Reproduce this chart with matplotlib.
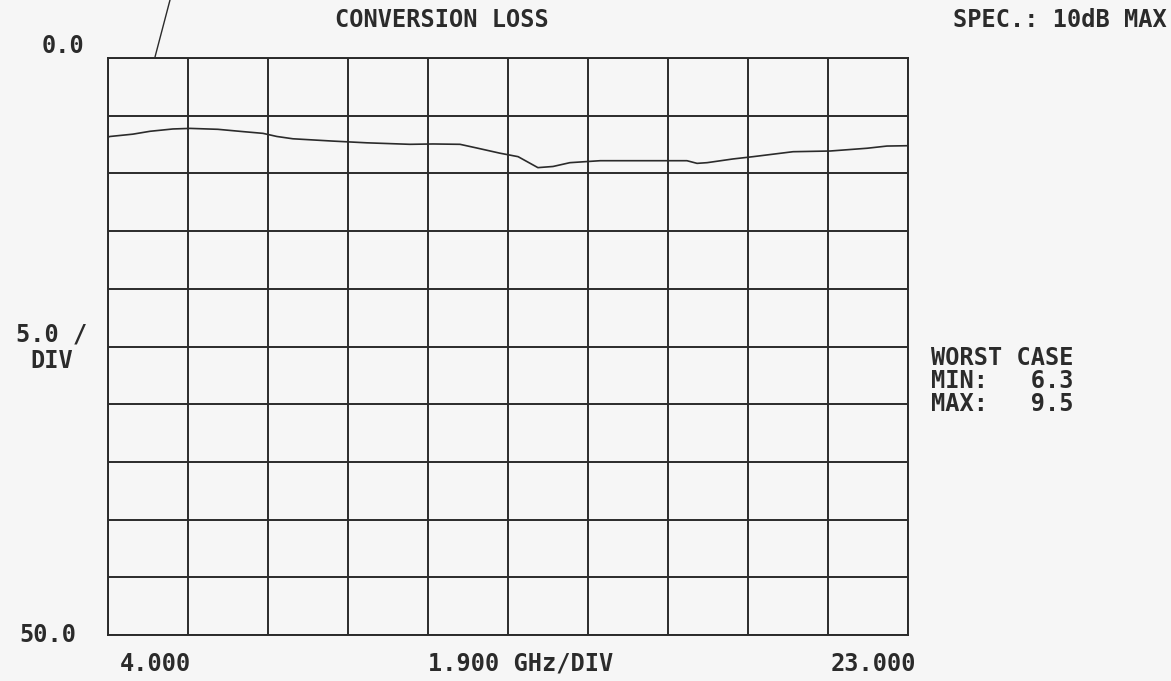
"""Conversion loss sweep, recreated from a scanned analyzer printout"""
import matplotlib
matplotlib.use('Agg')
import matplotlib.pyplot as plt
import numpy as np

# Data (GHz, dB)
freq_ghz = [4.00, 4.05, 4.59, 5.00, 5.54, 5.95, 6.61, 7.21, 7.68, 8.01, 8.39,
            9.34, 10.15, 11.17, 11.72, 12.36, 12.76, 13.31, 13.74, 14.21, 14.57,
            14.97, 15.69, 17.75, 17.99, 18.23, 18.84, 19.32, 20.27, 21.15, 22.03,
            22.50, 23.00]
loss_db = [6.85, 6.80, 6.60, 6.35, 6.15, 6.10, 6.18, 6.38, 6.53, 6.80, 7.00,
           7.20, 7.35, 7.48, 7.45, 7.48, 7.80, 8.25, 8.55, 9.50, 9.40,
           9.07, 8.90, 8.90, 9.13, 9.07, 8.75, 8.55, 8.12, 8.06, 7.82,
           7.63, 7.60]

f_start, f_stop, f_div = 4.0, 23.0, 1.9
db_top, db_bottom, db_div = 0.0, 50.0, 5.0
worst_min, worst_max = 6.3, 9.5

ink = '#2b2b2b'
paper = '#f6f6f6'
mono = ['DejaVu Sans Mono']

fig = plt.figure(figsize=(11.71, 6.81), dpi=100, facecolor=paper)
ax = fig.add_axes([108 / 1171, 46 / 681, 800 / 1171, 577 / 681])
ax.set_facecolor(paper)

ax.set_xlim(f_start, f_stop)
ax.set_ylim(db_bottom, db_top)
ax.set_xticks(np.arange(f_start, f_stop + 0.01, f_div))
ax.set_yticks(np.arange(db_top, db_bottom + 0.01, db_div))
ax.tick_params(length=0, labelbottom=False, labelleft=False)
ax.grid(True, color=ink, linewidth=1.4)
for s in ax.spines.values():
    s.set_color(ink)
    s.set_linewidth(1.4)

ax.plot(freq_ghz, loss_db, color=ink, linewidth=1.2, zorder=3)

# axis annotations in printer style
kw = dict(family=mono, fontsize=17, color=ink, fontweight='bold')
ax.text(-0.03, 1.0, f'{db_top:.1f}', transform=ax.transAxes, ha='right', va='bottom', **kw)
ax.text(-0.04, 0.0, f'{db_bottom:.1f}', transform=ax.transAxes, ha='right', va='center', **kw)
ax.text(-0.07, 0.52, f'{db_div:.1f} /', transform=ax.transAxes, ha='center', va='center', **kw)
ax.text(-0.07, 0.475, 'DIV', transform=ax.transAxes, ha='center', va='center', **kw)
ax.text(0.015, -0.05, f'{f_start:.3f}', transform=ax.transAxes, ha='left', va='center', **kw)
ax.text(0.4, -0.05, f'{f_div:.3f} GHz/DIV', transform=ax.transAxes, ha='left', va='center', **kw)
ax.text(1.01, -0.05, f'{f_stop:.3f}', transform=ax.transAxes, ha='right', va='center', **kw)

fig.text(442 / 1171, 1 - 20 / 681, 'CONVERSION LOSS', ha='center', va='center', **kw)
fig.text(1167 / 1171, 1 - 20 / 681, 'SPEC.: 10dB MAX', ha='right', va='center', **kw)
fig.text(931 / 1171, 1 - 358 / 681, 'WORST CASE', ha='left', va='center', **kw)
fig.text(931 / 1171, 1 - 381 / 681, f'MIN:   {worst_min}', ha='left', va='center', **kw)
fig.text(931 / 1171, 1 - 404 / 681, f'MAX:   {worst_max}', ha='left', va='center', **kw)

# handwritten pen stroke at top-left
fig.add_artist(plt.Line2D([155 / 1171, 170 / 1171], [1 - 57 / 681, 1.0],
                          color=ink, linewidth=1.0))

fig.savefig('out.png', dpi=100, facecolor=paper)
